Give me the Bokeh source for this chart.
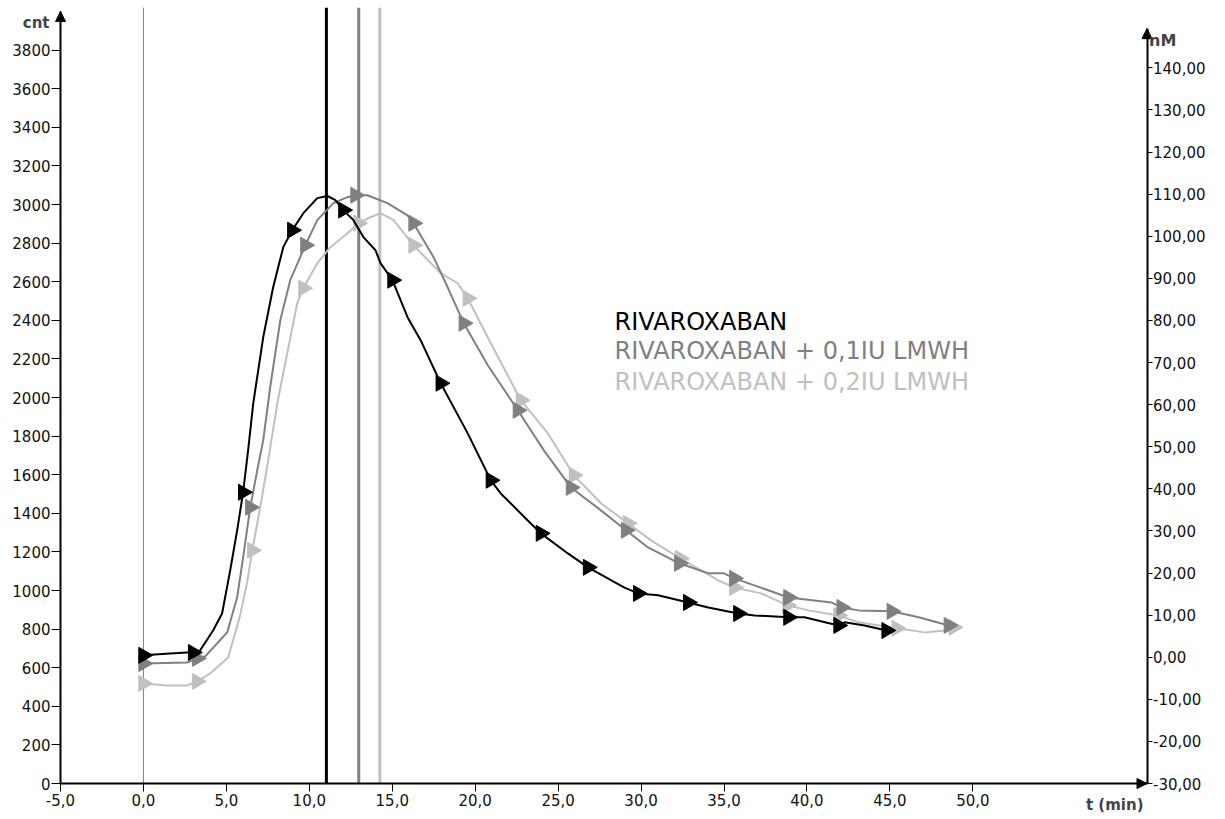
import math
from bokeh.plotting import figure
from bokeh.models import (ColumnDataSource, Range1d, LinearAxis, FixedTicker,
                          Label, Arrow, NormalHead)
from bokeh.embed import file_html
from bokeh.resources import INLINE

# ---------------- data ----------------
# RIVAROXABAN (black) curve
riva_t = [0.0, 1.6, 2.63, 2.99, 3.41, 4.2, 4.74, 5.23, 5.65, 6.01, 6.31, 6.62, 7.22, 7.82,
          8.43, 8.97, 9.64, 10.48, 11.09, 11.57, 12.05, 12.66, 13.26, 13.99, 14.29, 15.01,
          15.92, 16.71, 17.92, 19.55, 20.94, 21.54, 23.17, 23.96, 25.59, 26.8, 28.97, 29.82,
          31.03, 32.84, 34.05, 35.86, 36.83, 38.88, 39.85, 41.9, 42.27, 43.47, 44.8]
riva_cnt = [664, 674, 679, 679, 689, 793, 881, 1104, 1312, 1509, 1726, 1970, 2312, 2571,
            2779, 2867, 2955, 3033, 3044, 3023, 2971, 2919, 2831, 2763, 2696, 2608,
            2416, 2297, 2074, 1814, 1571, 1503, 1363, 1296, 1192, 1120, 1016, 985,
            975, 938, 912, 881, 871, 861, 861, 819, 835, 819, 793]
riva_mark_t = [0.0, 2.99, 6.01, 8.97, 12.05, 15.01, 17.92, 20.94, 23.96, 26.8, 29.82,
               32.84, 35.86, 38.88, 41.9, 44.8]
riva_mark_cnt = [664, 679, 1509, 2867, 2971, 2608, 2074, 1571, 1296, 1120, 985,
                 938, 881, 861, 819, 793]

# RIVAROXABAN + 0,1IU LMWH (grey) curve
lmwh1_t = [0.0, 2.63, 3.23, 3.72, 5.05, 5.65, 6.01, 6.44, 6.86, 7.22, 7.64, 8.25, 8.85,
           9.76, 10.48, 11.45, 12.3, 12.78, 13.5, 14.71, 15.92, 16.28, 17.49, 18.34, 19.31,
           20.76, 22.57, 24.14, 25.77, 27.58, 29.09, 30.42, 32.3, 34.05, 35.0, 35.62, 37.67,
           38.88, 41.48, 42.09, 43.11, 45.11, 46.74, 48.55]
lmwh1_cnt = [622, 627, 648, 658, 783, 964, 1172, 1431, 1623, 1778, 2053, 2400, 2608,
             2789, 2919, 3007, 3038, 3048, 3048, 3007, 2944, 2903, 2727, 2571, 2385,
             2167, 1934, 1726, 1534, 1415, 1312, 1223, 1141, 1089, 1089, 1063, 1001,
             964, 938, 912, 897, 892, 861, 819]
lmwh1_mark_t = [0.0, 3.23, 6.44, 9.76, 12.78, 16.28, 19.31, 22.57, 25.77, 29.09, 32.3,
                35.62, 38.88, 42.09, 45.11, 48.55]
lmwh1_mark_cnt = [622, 648, 1431, 2789, 3048, 2903, 2385, 1934, 1534, 1312, 1141,
                  1063, 964, 912, 892, 819]

# RIVAROXABAN + 0,2IU LMWH (light grey) curve
lmwh2_t = [0.0, 1.42, 2.63, 3.23, 4.02, 5.11, 5.83, 6.25, 6.56, 7.04, 7.52, 8.07, 8.67,
           9.27, 9.64, 10.48, 11.27, 12.3, 12.96, 13.69, 14.29, 15.08, 16.28, 17.92, 18.94,
           19.55, 20.94, 22.75, 24.38, 25.95, 27.58, 29.21, 30.6, 32.36, 33.63, 34.65,
           35.62, 37.25, 38.82, 40.09, 41.9, 43.11, 45.41, 47.1, 48.3, 48.85]
lmwh2_cnt = [518, 508, 508, 529, 570, 653, 871, 1042, 1208, 1431, 1674, 1970, 2229,
             2488, 2566, 2696, 2779, 2851, 2903, 2934, 2955, 2919, 2789, 2644, 2592,
             2514, 2281, 1986, 1814, 1597, 1452, 1348, 1260, 1166, 1104, 1052,
             1016, 985, 923, 897, 871, 835, 804, 783, 793, 809]
lmwh2_mark_t = [0.0, 3.23, 6.56, 9.64, 12.96, 16.28, 19.55, 22.75, 25.95, 29.21, 32.36,
                35.62, 38.82, 41.9, 45.41, 48.85]
lmwh2_mark_cnt = [518, 529, 1208, 2566, 2903, 2789, 2514, 1986, 1597, 1348, 1166,
                  1016, 923, 871, 804, 809]

# vertical reference lines (start and peak times)
vline_t = [0.0, 11.03, 12.98, 14.25]

series_names = ["RIVAROXABAN", "RIVAROXABAN + 0,1IU LMWH", "RIVAROXABAN + 0,2IU LMWH"]
x_ticks = [-5, 0, 5, 10, 15, 20, 25, 30, 35, 40, 45, 50]
y_ticks = list(range(0, 3801, 200))
nm_ticks = [-30, -20, -10, 0, 10, 20, 30, 40, 50, 60, 70, 80, 90, 100, 110, 120, 130, 140]

# ---------------- layout / styling ----------------
BLACK, GREY, LGREY = "#000000", "#808080", "#c0c0c0"
colors = [BLACK, GREY, LGREY]
FONT = "DejaVu Sans"

W, H = 1225, 819
# pixel geometry of the axes inside the canvas
PX_LEFT, PX_RIGHT, PX_BASE = 60.0, 1146.5, 783.0
X_LEFT, X_RIGHT = -5.0, 60.5                 # data values at left / right axis
PX_PER_MIN = (PX_RIGHT - PX_LEFT) / (X_RIGHT - X_LEFT)
PX_PER_CNT = 772.0 / 4000.0
PX_PER_NM = 4.21
Y_TOP = 4000.0                               # left axis arrow tip
NM_BOTTOM, NM_TOP = -30.0, 149.3             # right axis extent

x_start = X_LEFT - PX_LEFT / PX_PER_MIN
x_end = X_LEFT + (W - PX_LEFT) / PX_PER_MIN
y_start = -(H - PX_BASE) / PX_PER_CNT
y_end = PX_BASE / PX_PER_CNT
nm_start = NM_BOTTOM - (H - PX_BASE) / PX_PER_NM
nm_end = NM_BOTTOM + PX_BASE / PX_PER_NM

p = figure(width=W, height=H,
           x_range=Range1d(x_start, x_end), y_range=Range1d(y_start, y_end),
           output_backend="svg", toolbar_location=None,
           x_axis_location=None, y_axis_location=None,
           min_border=0, min_border_left=0, min_border_right=0,
           min_border_top=0, min_border_bottom=0)
p.extra_y_ranges = {"nM": Range1d(nm_start, nm_end)}
p.xgrid.visible = False
p.ygrid.visible = False
p.outline_line_color = None
p.background_fill_color = "white"
p.border_fill_color = "white"

# vertical lines
vl_colors = [GREY, BLACK, GREY, LGREY]
vl_widths = [1, 3, 3, 3]
vsrc = ColumnDataSource(dict(x=vline_t, y0=[0] * 4, y1=[Y_TOP + 20] * 4,
                             c=vl_colors, w=vl_widths))
p.segment(x0="x", y0="y0", x1="x", y1="y1", line_color="c", line_width="w", source=vsrc)

# curves + markers
curves = [(riva_t, riva_cnt, riva_mark_t, riva_mark_cnt),
          (lmwh1_t, lmwh1_cnt, lmwh1_mark_t, lmwh1_mark_cnt),
          (lmwh2_t, lmwh2_cnt, lmwh2_mark_t, lmwh2_mark_cnt)]
for (lt, lv, mt, mv), c in reversed(list(zip(curves, colors))):
    p.line(lt, lv, line_color=c, line_width=2)
    p.scatter(mt, mv, marker="triangle", size=16, angle=-math.pi / 2,
              fill_color=c, line_color=c)

# axes (fixed inside the canvas so that their titles are not clipped)
xa = LinearAxis(ticker=FixedTicker(ticks=x_ticks), fixed_location=0,
                bounds=(X_LEFT, X_RIGHT),
                major_label_overrides={v: f"{v:.1f}".replace(".", ",") for v in x_ticks})
ya = LinearAxis(ticker=FixedTicker(ticks=y_ticks), fixed_location=X_LEFT,
                bounds=(0, Y_TOP))
ra = LinearAxis(y_range_name="nM", ticker=FixedTicker(ticks=nm_ticks), fixed_location=X_RIGHT,
                major_label_overrides={v: f"{v:.2f}".replace(".", ",") for v in nm_ticks},
                bounds=(NM_BOTTOM, NM_TOP))
p.add_layout(xa, "below")
p.add_layout(ya, "left")
p.add_layout(ra, "right")

for ax in (xa, ya, ra):
    ax.axis_line_color = BLACK
    ax.axis_line_width = 2
    ax.major_tick_line_color = BLACK
    ax.major_tick_line_width = 1
    ax.major_tick_in = 0
    ax.minor_tick_line_color = None
    ax.major_label_text_font = FONT
    ax.major_label_text_font_size = "15px"
    ax.major_label_text_color = "#111111"
xa.major_tick_out = 8
xa.major_label_standoff = 2
ya.major_tick_out = 9
ya.major_label_standoff = 1
ra.major_tick_out = 5
ra.major_label_standoff = 1

# arrow heads at axis ends
for xs, ys, xe, ye, rng in [(X_LEFT, Y_TOP - 100, X_LEFT, Y_TOP, "default"),
                            (X_RIGHT - 2, 0, X_RIGHT, 0, "default"),
                            (X_RIGHT, NM_TOP - 5, X_RIGHT, NM_TOP, "nM")]:
    p.add_layout(Arrow(x_start=xs, y_start=ys, x_end=xe, y_end=ye, y_range_name=rng,
                       line_alpha=0,
                       end=NormalHead(size=10, fill_color=BLACK, line_color=BLACK)))

# axis titles (positions in data units derived from the pixel geometry)
p.add_layout(Label(x=X_LEFT - 11 / PX_PER_MIN, y=(PX_BASE - 22) / PX_PER_CNT, text="cnt",
                   text_align="right", text_baseline="alphabetic",
                   text_font=FONT, text_font_style="bold", text_font_size="15px"))
p.add_layout(Label(x=X_RIGHT + 2 / PX_PER_MIN, y=(PX_BASE - 40) / PX_PER_CNT, text="nM",
                   text_align="left", text_baseline="alphabetic",
                   text_font=FONT, text_font_style="bold", text_font_size="16px"))
p.add_layout(Label(x=X_RIGHT - 3.5 / PX_PER_MIN, y=(PX_BASE - 804) / PX_PER_CNT, text="t (min)",
                   text_align="right", text_baseline="alphabetic",
                   text_font=FONT, text_font_style="bold", text_font_size="15px"))

# legend texts
legend_baseline_px = [321, 350, 381]
for name, c, by in zip(series_names, colors, legend_baseline_px):
    p.add_layout(Label(x=X_LEFT + (614 - PX_LEFT) / PX_PER_MIN, y=(PX_BASE - by) / PX_PER_CNT,
                       text=name, text_color=c, text_align="left", text_baseline="alphabetic",
                       text_font=FONT, text_font_size="24px"))

open("out.html", "w").write(file_html(p, INLINE))
